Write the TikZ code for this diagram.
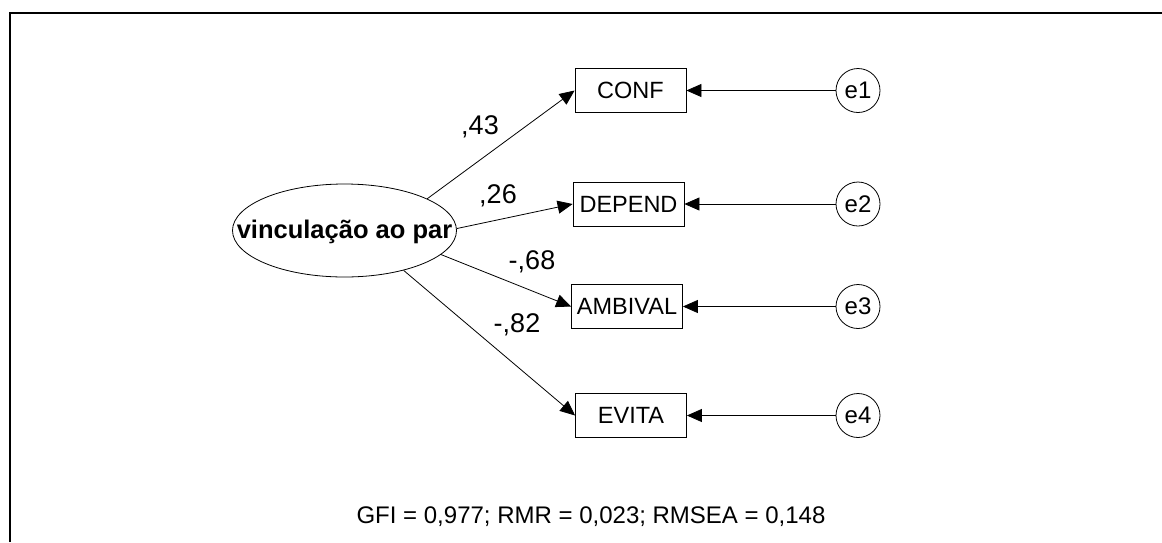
\documentclass[tikz,border=0pt]{standalone}
\usepackage{fontspec}
\setmainfont{Liberation Sans}
\usepackage{tikz}
\usetikzlibrary{arrows.meta,shapes.geometric}

\begin{document}
\begin{tikzpicture}[x=1pt,y=-1pt,
  obs/.style={draw,rectangle,line width=0.8pt,minimum width=111pt,minimum height=44pt,
    inner sep=0pt,font=\fontsize{23.5}{26}\selectfont},
  err/.style={draw,circle,line width=0.8pt,minimum size=44pt,inner sep=0pt,
    font=\fontsize{24}{26}\selectfont},
  coef/.style={inner sep=0pt,font=\fontsize{27}{30}\selectfont},
  link/.style={line width=0.8pt,-{Triangle[length=15pt,width=13pt]}}]
\useasboundingbox (0,0) rectangle (1162,542);
% frame (left and top edges only)
\draw[line width=2pt] (9.5,542) -- (9.5,13) -- (1162,13);
% latent variable
\node[draw,ellipse,line width=0.8pt,minimum width=224pt,minimum height=93pt,inner sep=0pt]
  (lat) at (344.5,230.5) {};
\node[font=\bfseries\fontsize{25.5}{28}\selectfont] (latname) at (344.5,232) {vinculação ao par};
% indicators and their errors: (name, label, x, y, error)
\foreach \nm/\lab/\x/\y/\e in {%
  conf/CONF/630.5/90.5/e1,%
  depend/DEPEND/628.5/204/e2,%
  ambival/AMBIVAL/627/306.5/e3,%
  evita/EVITA/631/415.5/e4}{%
  \node[obs] (\nm) at (\x,\y) {\lab};
  \node[err] (\e) at (858,\y) {\e};
  \draw[link] (\e) -- (\nm);
}
% loadings
\foreach \ang/\nm in {21.3/conf,1.8/depend,-14.4/ambival,-34.5/evita}
  \draw[link] (lat.\ang) -- (\nm.west);
\foreach \nm/\x/\y/\v in {w1/480/127/{,43},w2/498/196/{,26},w3/532/262/{-,68},w4/517/325/{-,82}}
  \node[coef] (\nm) at (\x,\y) {\v};
% fit indices
\node[font=\fontsize{24}{28}\selectfont] (fit) at (591,517) {GFI = 0,977; RMR = 0,023; RMSEA = 0,148};
\end{tikzpicture}
\end{document}
